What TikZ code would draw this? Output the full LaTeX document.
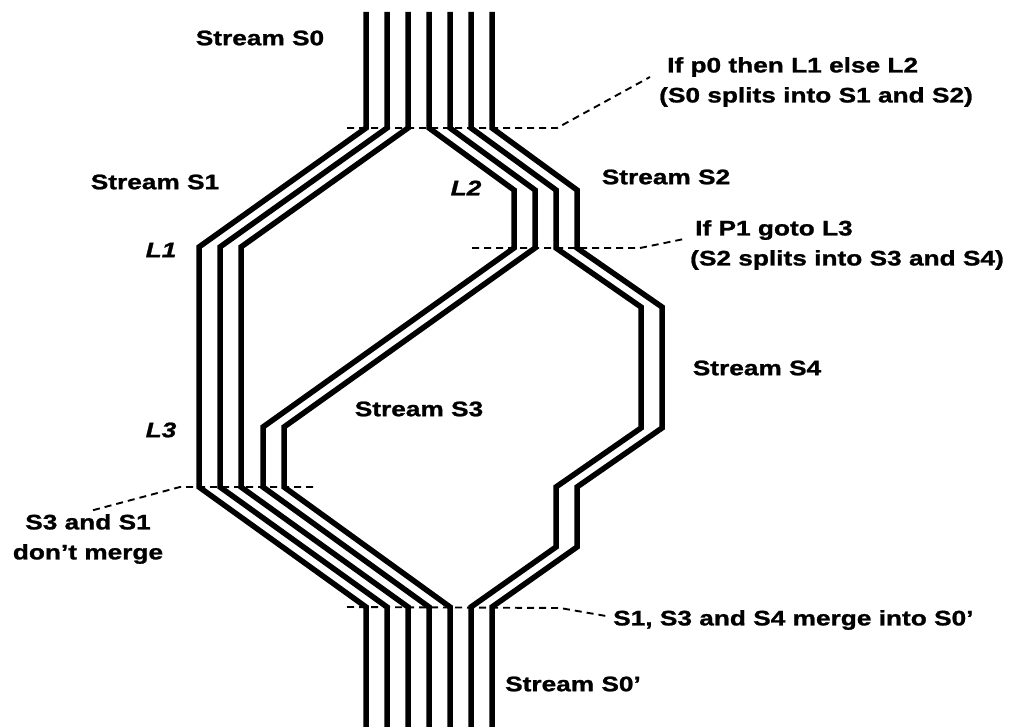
\documentclass[tikz,border=0pt]{standalone}
\usepackage{fontspec}
\setmainfont{Liberation Sans}[FakeStretch=1.25, BoldFeatures={FakeBold=1.2}, BoldItalicFeatures={FakeBold=1.2}]
\begin{document}
\begin{tikzpicture}[x=1pt,y=-1pt,
  stream/.style={line width=5.5pt,black},
  leader/.style={line width=1.9pt,dash pattern=on 7pt off 5pt},
  lbl/.style={font=\fontsize{21}{25}\selectfont\bfseries,inner sep=0pt},
  lab/.style={font=\fontsize{21}{25}\selectfont\bfseries\itshape,inner sep=0pt},
  note/.style={font=\fontsize{21}{30}\selectfont\bfseries,inner sep=0pt,align=left}]
\useasboundingbox (0,0) rectangle (1010,727);
% S1 lines
\foreach \x in {366,387,408}{
  \draw[stream] (\x,12) -- (\x,128) -- ({\x-167},247) -- ({\x-167},487) -- (\x,607) -- (\x,730);
}
% S3 lines
\foreach \x in {429,450}{
  \draw[stream] (\x,12) -- (\x,128) -- ({\x+85},190) -- ({\x+85},248) -- ({\x-166},427) -- ({\x-166},487) -- (\x,607) -- (\x,730);
}
% S4 lines
\foreach \x in {471,492}{
  \draw[stream] (\x,12) -- (\x,128) -- ({\x+85},190) -- ({\x+85},248) -- ({\x+170},307) -- ({\x+170},428) -- ({\x+85},487) -- ({\x+85},547) -- (\x,607) -- (\x,730);
}
% labels
\node[lbl] (s0) at (260,38) {Stream S0};
\node[lbl] (s1) at (155,182) {Stream S1};
\node[lbl] (s2) at (666,177) {Stream S2};
\node[lbl] (s3) at (419,409) {Stream S3};
\node[lbl] (s4) at (757,368) {Stream S4};
\node[lbl] (s0p) at (573,684) {Stream S0’};
\node[lab] (l1) at (161,250) {L1};
\node[lab] (l2) at (466,188) {L2};
\node[lab] (l3) at (161,430) {L3};
\node[note,anchor=west] (n1) at (659,82) {\hspace*{8pt}If p0 then L1 else L2\\(S0 splits into S1 and S2)};
\node[note,anchor=west] (n2) at (690,245) {\hspace*{5pt}If P1 goto L3\\(S2 splits into S3 and S4)};
\node[note,align=center] (n3) at (88,539) {S3 and S1\\don’t merge};
\node[lbl,anchor=west] (n4) at (613,620) {S1, S3 and S4 merge into S0’};
% leader coordinates
\coordinate (d1a) at (347,128);
\coordinate (d1b) at (557,128);
\coordinate (d2a) at (472,248);
\coordinate (d2b) at (640,248);
\coordinate (d3a) at (313,487);
\coordinate (d3b) at (180,487);
\coordinate (d4a) at (347,607);
\coordinate (d4b) at (560,608);
% leaders
\draw[leader] (d1a) -- (d1b) -- (650,77);
\draw[leader] (d2a) -- (d2b) -- (684,239);
\draw[leader] (d3a) -- (d3b) -- (90,511);
\draw[leader] (d4a) -- (d4b) -- (606,616);
\end{tikzpicture}
\end{document}
